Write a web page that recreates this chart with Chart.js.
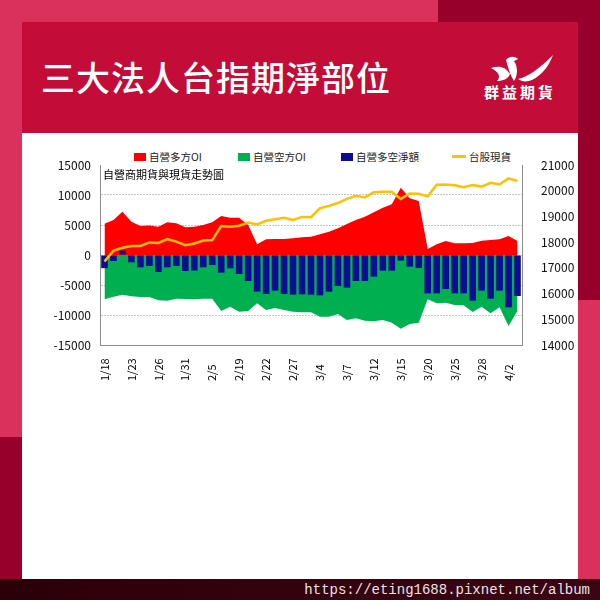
<!DOCTYPE html>
<html lang="zh-Hant">
<head>
<meta charset="utf-8">
<title>三大法人台指期淨部位</title>
<script src="https://cdn.jsdelivr.net/npm/chart.js@4.4.1/dist/chart.umd.min.js"></script>
<style>
  html, body { margin: 0; padding: 0; }
  body {
    width: 600px; height: 600px; position: relative; overflow: hidden;
    background: #d9315b; font-family: "Noto Sans CJK TC", sans-serif;
  }
  .blk { position: absolute; }
  #topDark { left: 438px; top: 0; width: 162px; height: 22px; background: #97002a; }
  #rightDark { left: 578px; top: 0; width: 22px; height: 300px; background: #97002a; }
  #leftDark { left: 0; top: 437px; width: 22px; height: 142px; background: #97002a; }
  #header { left: 22px; top: 22px; width: 556px; height: 111px; background: #c30c37; }
  #panel { left: 22px; top: 133px; width: 556px; height: 446px; background: #fff; }
  #footer {
    left: 0; top: 579px; width: 600px; height: 21px;
    background: linear-gradient(90deg, #2b0009, #3d0414);
  }
  #title {
    position: absolute; left: 41px; top: 55px; margin: 0;
    color: #fff; font-size: 34px; font-weight: 500; letter-spacing: 1px; line-height: 44px;
  }
  #logo { position: absolute; left: 484px; top: 55px; width: 76px; }
  #logo svg { display: block; margin-left: 7px; }
  #logo span {
    display: block; color: #fff; font-size: 15px; font-weight: 700;
    letter-spacing: 3px; line-height: 16px; margin-top: 2px;
  }
  #url {
    position: absolute; right: 10px; top: 580px; color: #e6e6e6;
    font-family: "Liberation Mono", monospace; font-size: 14px; line-height: 20px;
  }
  #chartBox { position: absolute; left: 22px; top: 145px; width: 556px; height: 250px; }
  .lg { position: absolute; top: 150px; font-size: 10.5px; color: #222; line-height: 14px; white-space: nowrap; }
  .lg i { display: inline-block; width: 12px; height: 8px; margin-right: 3px; vertical-align: 0; }
  .lg i.ln { width: 14px; height: 3px; vertical-align: 3px; }
</style>
</head>
<body>
<div class="blk" id="topDark"></div>
<div class="blk" id="rightDark"></div>
<div class="blk" id="leftDark"></div>
<div class="blk" id="header"></div>
<div class="blk" id="panel"></div>
<div class="blk" id="footer"></div>

<h1 id="title">三大法人台指期淨部位</h1>
<div id="logo">
  <svg width="62" height="27" viewBox="0 0 62 27">
    <path d="M0 13 C8 10 15 12 19 19 C17 24 12 26 6 26 C10 22 8 17 0 13 Z" fill="#fff"/>
    <path d="M15 5 C18 1 24 1 27 4 L23 6 C27 12 27 20 23 26 C19 20 17 12 15 5 Z" fill="#fff"/>
    <path d="M27 24 C37 22 49 13 62 0 C58 11 51 20 41 25 C36 27 31 27 27 24 Z" fill="#fff"/>
  </svg>
  <span>群益期貨</span>
</div>

<div class="lg" style="left:134px"><i style="background:#ff0000"></i>自營多方OI</div>
<div class="lg" style="left:238px"><i style="background:#00b050"></i>自營空方OI</div>
<div class="lg" style="left:341px"><i style="background:#0d0d94"></i>自營多空淨額</div>
<div class="lg" style="left:452px"><i class="ln" style="background:#ffc000"></i>台股現貨</div>

<div id="chartBox"><canvas id="chart" width="556" height="250"></canvas></div>
<div id="url">https://eting1688.pixnet.net/album</div>

<script>
// 日期 (交易日)
const dates = ['1/18','1/19','1/22','1/23','1/24','1/25','1/26','1/29','1/30','1/31',
  '2/1','2/2','2/5','2/15','2/16','2/19','2/20','2/21','2/22','2/23','2/26','2/27','2/29',
  '3/1','3/4','3/5','3/6','3/7','3/8','3/11','3/12','3/13','3/14','3/15','3/18','3/19',
  '3/20','3/21','3/22','3/25','3/26','3/27','3/28','3/29','4/1','4/2','4/3']

// 自營多方OI
const longOI = [5200,5830,7200,5550,4830,4900,4720,5440,5280,4610,4720,5000,5440,6500,6220,6220,
  5000,1780,2610,2670,2670,2780,2950,3050,3440,3890,4440,5170,5830,6390,7110,7890,8440,11220,
  9440,9000,1000,1780,2330,1940,1940,2000,2390,2500,2610,3170,2330]

// 自營空方OI
const shortOI = [-7390,-6940,-6610,-6890,-7000,-7000,-7560,-7610,-7280,-7330,-7390,-7280,-7280,
  -9330,-8610,-9440,-9330,-8060,-9170,-8830,-9170,-9440,-9560,-9560,-10280,-10280,-9830,-10830,
  -10560,-10940,-11060,-10830,-11280,-12280,-11500,-11280,-7390,-8060,-7950,-8330,-8390,-9500,
  -8610,-9720,-8720,-11830,-9280]

// 自營多空淨額
const netOI = [-2200,-1000,750,-1220,-2050,-1830,-2830,-2050,-1830,-2670,-2600,-2050,-1670,-2940,
  -2220,-3170,-4330,-6110,-6500,-5940,-6500,-6610,-6560,-6610,-6720,-6110,-5170,-5440,-4330,
  -4330,-3610,-2610,-2610,-940,-1940,-2170,-6390,-6390,-5670,-6390,-6390,-7610,-5940,-7280,
  -5940,-8720,-6830]

// 台股現貨 (右軸)
const taiex = [17250,17670,17780,17850,17850,17990,17970,18120,18020,17880,17950,18060,18080,
  18630,18600,18640,18760,18690,18830,18890,18950,18860,18980,18970,19320,19410,19520,19680,
  19800,19740,19940,19960,19960,19680,19890,19880,19780,20230,20240,20210,20140,20220,20160,
  20310,20240,20480,20380]

const subTitle = '自營商期貨與現貨走勢圖'
const FONT = '"Noto Sans CJK TC", sans-serif'

// 畫圖內標題 + 直排日期標籤
const drawExtras = {
  id: 'drawExtras',
  afterDraw(chart) {
    const { ctx, chartArea, scales } = chart
    ctx.save()
    ctx.fillStyle = '#000'
    ctx.font = '11px ' + FONT
    ctx.textBaseline = 'middle'
    ctx.textAlign = 'left'
    ctx.fillText(subTitle, chartArea.left + 3, chartArea.top + 10)

    dates.forEach((d, i) => {
      if (i % 3) return
      const x = scales.x.getPixelForValue(i)
      ctx.save()
      ctx.translate(x, chartArea.bottom + 36)
      ctx.rotate(-Math.PI / 2)
      ctx.fillText(d, 0, 0)
      ctx.restore()
    })
    ctx.restore()
  }
}

const ctx = document.getElementById('chart').getContext('2d')

new Chart(ctx, {
  type: 'bar',
  data: {
    labels: dates,
    datasets: [
      {
        type: 'line', label: '自營多方OI', data: longOI, yAxisID: 'y',
        backgroundColor: '#ff0000', borderColor: '#ff0000', borderWidth: 0,
        fill: 'origin', pointRadius: 0, tension: 0, order: 3
      },
      {
        type: 'line', label: '自營空方OI', data: shortOI, yAxisID: 'y',
        backgroundColor: '#00b050', borderColor: '#00b050', borderWidth: 0,
        fill: 'origin', pointRadius: 0, tension: 0, order: 2
      },
      {
        type: 'bar', label: '自營多空淨額', data: netOI, yAxisID: 'y',
        backgroundColor: '#0d0d94', barPercentage: 0.9, categoryPercentage: 0.82, order: 1
      },
      {
        type: 'line', label: '台股現貨', data: taiex, yAxisID: 'y1',
        borderColor: '#ffc000', borderWidth: 2.5, pointRadius: 0, fill: false, tension: 0, order: 0
      }
    ]
  },
  options: {
    responsive: false,
    animation: false,
    devicePixelRatio: 1,
    layout: { padding: { top: 20, left: 0, right: 0, bottom: 0 } },
    plugins: {
      legend: { display: false },
      tooltip: { enabled: false }
    },
    scales: {
      x: {
        grid: { display: false },
        border: { display: true, color: '#8c8c8c' },
        ticks: { display: false },
        afterFit: (s) => { s.height = 50 }
      },
      y: {
        position: 'left',
        min: -15000, max: 15000,
        ticks: {
          stepSize: 5000, padding: 9, color: '#111', font: { family: FONT, size: 12 },
          callback: (v) => String(v)
        },
        grid: {
          drawTicks: false,
          color: (c) => (c.tick && Math.abs(c.tick.value) === 15000) ? 'rgba(0,0,0,0)' : '#c4c4c4'
        },
        border: { display: true, color: '#8c8c8c', dash: [2, 1] },
        afterFit: (s) => { s.width = 78 }
      },
      y1: {
        position: 'right',
        min: 14000, max: 21000,
        ticks: {
          stepSize: 1000, padding: 11, color: '#111', font: { family: FONT, size: 12 },
          callback: (v) => String(v)
        },
        grid: { display: false },
        border: { display: true, color: '#8c8c8c' },
        afterFit: (s) => { s.width = 56 }
      }
    }
  },
  plugins: [drawExtras]
})
</script>
</body>
</html>
